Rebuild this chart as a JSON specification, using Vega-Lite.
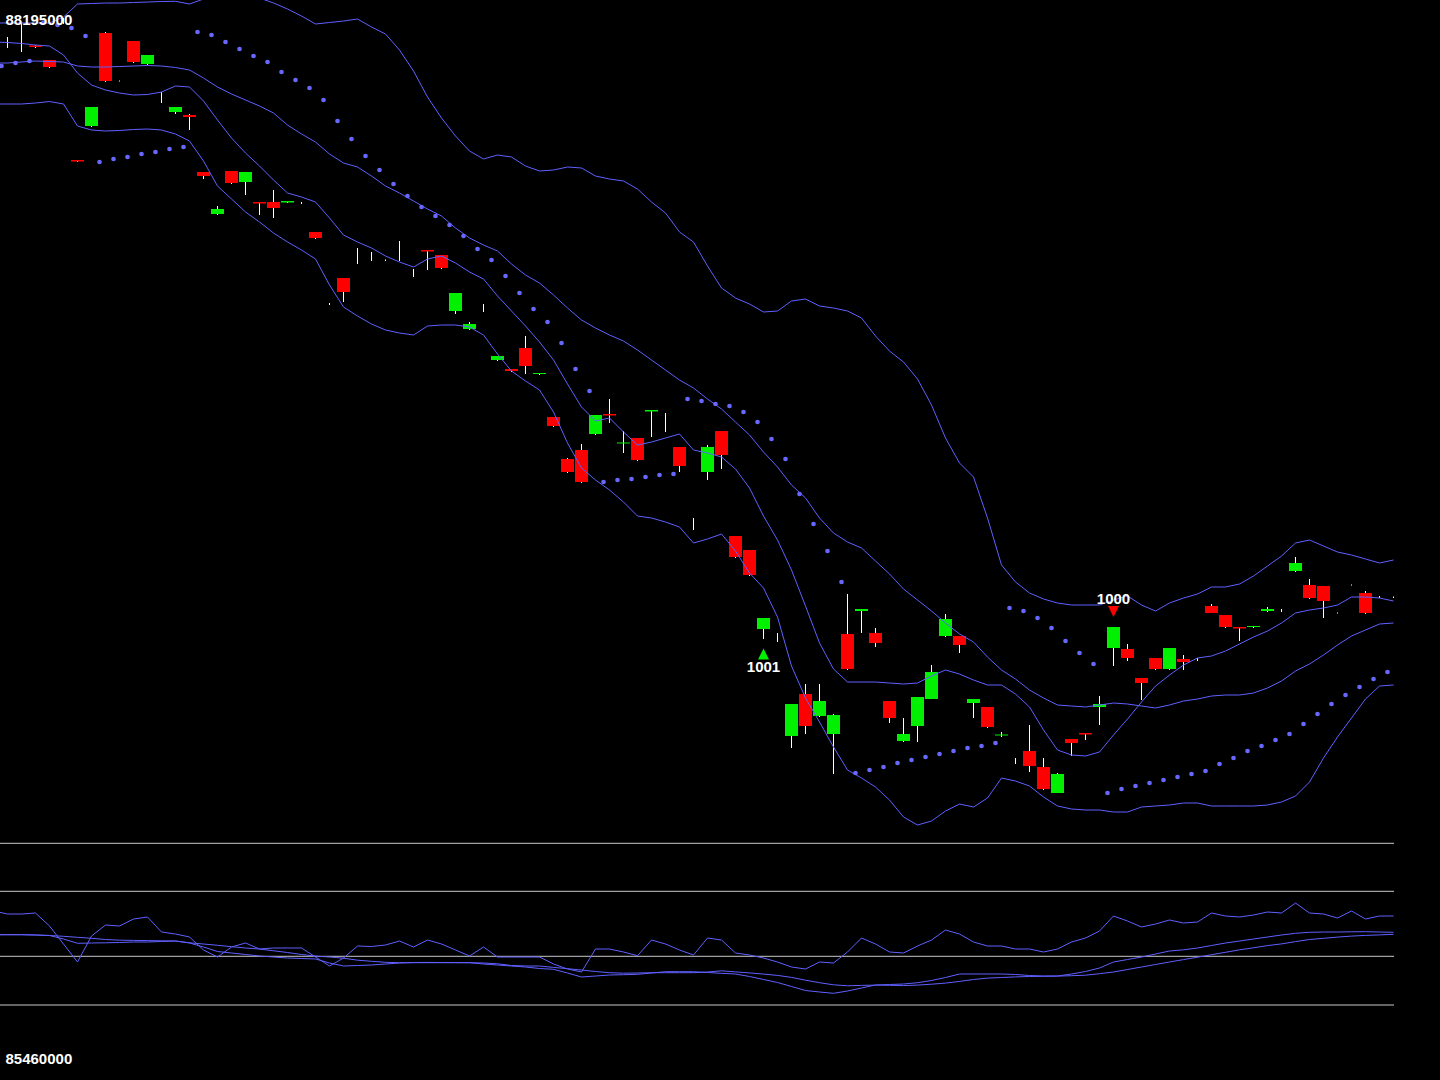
{
  "$schema": "https://vega.github.io/schema/vega-lite/v6.json",
  "width": 1440,
  "height": 1080,
  "padding": 0,
  "autosize": {"type": "none"},
  "background": "#000000",
  "config": {"view": {"stroke": null}},
  "datasets": {
    "candles": [
      {"i":0,"o":1038,"h":1043,"l":1032,"c":1038},
      {"i":1,"o":1042,"h":1057,"l":1028,"c":1042},
      {"i":2,"o":1034.5,"h":1035,"l":1032,"c":1033},
      {"i":3,"o":1020,"h":1020,"l":1012,"c":1013},
      {"i":4,"o":1060,"h":1062,"l":1056,"c":1060},
      {"i":5,"o":920,"h":920,"l":918,"c":918.5},
      {"i":6,"o":954,"h":973,"l":953,"c":973},
      {"i":7,"o":1047,"h":1048,"l":998,"c":999},
      {"i":8,"o":999,"h":999.5,"l":998.5,"c":999},
      {"i":9,"o":1039,"h":1039,"l":1017,"c":1018},
      {"i":10,"o":1016,"h":1025,"l":1015,"c":1025},
      {"i":11,"o":985,"h":988,"l":977,"c":985},
      {"i":12,"o":968,"h":973,"l":966,"c":973},
      {"i":13,"o":965,"h":966,"l":950,"c":963},
      {"i":14,"o":908,"h":908,"l":901,"c":904},
      {"i":15,"o":866,"h":874,"l":865,"c":871},
      {"i":16,"o":909,"h":909,"l":896,"c":897},
      {"i":17,"o":898,"h":908,"l":885,"c":908},
      {"i":18,"o":878,"h":878,"l":865,"c":876.5},
      {"i":19,"o":878,"h":890,"l":862,"c":872},
      {"i":20,"o":877.5,"h":879,"l":877,"c":879},
      {"i":21,"o":877,"h":878,"l":876,"c":877},
      {"i":22,"o":848,"h":848,"l":841,"c":842},
      {"i":23,"o":776,"h":777,"l":775,"c":776},
      {"i":24,"o":802,"h":802,"l":778,"c":788},
      {"i":25,"o":824,"h":832,"l":816,"c":824},
      {"i":26,"o":824,"h":828,"l":819,"c":824},
      {"i":27,"o":820,"h":820.5,"l":819,"c":820},
      {"i":28,"o":830,"h":839,"l":819,"c":830},
      {"i":29,"o":807,"h":811,"l":803,"c":807},
      {"i":30,"o":830,"h":830,"l":810,"c":828.5},
      {"i":31,"o":825,"h":825,"l":811,"c":812},
      {"i":32,"o":769,"h":787,"l":766,"c":787},
      {"i":33,"o":751,"h":758,"l":750,"c":756},
      {"i":34,"o":772,"h":776,"l":768,"c":772},
      {"i":35,"o":720,"h":724,"l":719,"c":724},
      {"i":36,"o":711,"h":711,"l":708,"c":709},
      {"i":37,"o":732,"h":744,"l":706,"c":714},
      {"i":38,"o":706,"h":707,"l":705,"c":707},
      {"i":39,"o":663,"h":663,"l":653,"c":654},
      {"i":40,"o":621,"h":622,"l":607,"c":608},
      {"i":41,"o":630,"h":636,"l":597,"c":598},
      {"i":42,"o":646,"h":665,"l":645,"c":665},
      {"i":43,"o":666,"h":681,"l":657,"c":664.5},
      {"i":44,"o":636.5,"h":649,"l":627,"c":637.5},
      {"i":45,"o":642,"h":642,"l":619,"c":620},
      {"i":46,"o":668.5,"h":670,"l":643,"c":670},
      {"i":47,"o":658,"h":667,"l":648,"c":658},
      {"i":48,"o":633,"h":633,"l":608,"c":614},
      {"i":49,"o":556,"h":562,"l":550,"c":556},
      {"i":50,"o":608,"h":635,"l":600,"c":633},
      {"i":51,"o":649,"h":649,"l":611,"c":625},
      {"i":52,"o":544,"h":544,"l":522,"c":523},
      {"i":53,"o":530,"h":530,"l":504,"c":505},
      {"i":54,"o":451,"h":462,"l":441,"c":462},
      {"i":55,"o":443,"h":447,"l":438,"c":443},
      {"i":56,"o":344,"h":376,"l":332,"c":376},
      {"i":57,"o":386,"h":396,"l":346,"c":354},
      {"i":58,"o":364,"h":396,"l":363,"c":379},
      {"i":59,"o":346,"h":366,"l":306,"c":365},
      {"i":60,"o":446,"h":486,"l":410,"c":411},
      {"i":61,"o":469,"h":471,"l":447,"c":471},
      {"i":62,"o":447,"h":452,"l":433,"c":437},
      {"i":63,"o":379,"h":379,"l":357,"c":362},
      {"i":64,"o":339,"h":362,"l":338,"c":346},
      {"i":65,"o":354,"h":383,"l":338,"c":383},
      {"i":66,"o":381,"h":415,"l":381,"c":408},
      {"i":67,"o":444,"h":466,"l":443,"c":461},
      {"i":68,"o":444,"h":444,"l":427,"c":435},
      {"i":69,"o":377,"h":381,"l":362,"c":381},
      {"i":70,"o":373,"h":373,"l":352,"c":353},
      {"i":71,"o":344.5,"h":348,"l":343,"c":345.5},
      {"i":72,"o":319,"h":322,"l":316,"c":319},
      {"i":73,"o":329,"h":355,"l":308,"c":314},
      {"i":74,"o":313,"h":322,"l":290,"c":291},
      {"i":75,"o":287,"h":307,"l":287,"c":306},
      {"i":76,"o":341,"h":341,"l":324,"c":337},
      {"i":77,"o":347,"h":347,"l":340,"c":345.5},
      {"i":78,"o":373,"h":384,"l":355,"c":376},
      {"i":79,"o":432,"h":453,"l":414,"c":453},
      {"i":80,"o":431,"h":436,"l":419,"c":422},
      {"i":81,"o":402,"h":402,"l":380,"c":397},
      {"i":82,"o":422,"h":422,"l":410,"c":411},
      {"i":83,"o":411,"h":432,"l":410,"c":432},
      {"i":84,"o":421,"h":425,"l":410,"c":418},
      {"i":85,"o":420.5,"h":422,"l":419,"c":420.5},
      {"i":86,"o":474,"h":476,"l":467,"c":467},
      {"i":87,"o":465,"h":465,"l":452,"c":453},
      {"i":88,"o":453,"h":453,"l":439,"c":451.5},
      {"i":89,"o":453,"h":454,"l":452,"c":454},
      {"i":90,"o":469,"h":473,"l":468,"c":471},
      {"i":91,"o":469.5,"h":471,"l":468,"c":469.5},
      {"i":92,"o":509,"h":523,"l":508,"c":517},
      {"i":93,"o":495,"h":501,"l":481,"c":482},
      {"i":94,"o":494,"h":494,"l":462,"c":479},
      {"i":95,"o":467,"h":467.5,"l":466.5,"c":467},
      {"i":96,"o":495,"h":495.5,"l":494.5,"c":495},
      {"i":97,"o":487,"h":489,"l":466,"c":467},
      {"i":98,"o":483,"h":484,"l":482,"c":483},
      {"i":99,"o":483,"h":483.5,"l":482,"c":483}
    ],
    "studies": [
      {"i":-1,"upper":1057,"fast":1038,"middle":1017,"lower":976,"sar":null,"osc":169,"signal":145.3,"slow":145.3},
      {"i":0,"upper":1057,"fast":1037.5,"middle":1017,"lower":976,"sar":1014,"osc":166,"signal":145.3,"slow":145.3},
      {"i":1,"upper":1057,"fast":1036.5,"middle":1018,"lower":976,"sar":1017,"osc":166,"signal":145.3,"slow":145.3},
      {"i":2,"upper":1057,"fast":1035,"middle":1019,"lower":977,"sar":1019,"osc":167,"signal":145,"slow":145},
      {"i":3,"upper":1057,"fast":1034,"middle":1018.5,"lower":978.5,"sar":1057.5,"osc":154,"signal":144.5,"slow":144.5},
      {"i":4,"upper":1063,"fast":1025,"middle":1018,"lower":976,"sar":1055,"osc":136,"signal":141,"slow":143.7},
      {"i":5,"upper":1076,"fast":1007,"middle":1014,"lower":954,"sar":1052,"osc":118,"signal":136.7,"slow":142.7},
      {"i":6,"upper":1076.5,"fast":995,"middle":1013,"lower":950,"sar":1044,"osc":144,"signal":137,"slow":141.7},
      {"i":7,"upper":1077,"fast":990,"middle":1013,"lower":949,"sar":918,"osc":155,"signal":137.2,"slow":140.5},
      {"i":8,"upper":1077,"fast":987,"middle":1013.5,"lower":949.5,"sar":921,"osc":154,"signal":137.5,"slow":139.8},
      {"i":9,"upper":1077.5,"fast":985,"middle":1014,"lower":950.5,"sar":923,"osc":161,"signal":138,"slow":139.6},
      {"i":10,"upper":1078,"fast":985.5,"middle":1014.5,"lower":951,"sar":926,"osc":163,"signal":138,"slow":139.4},
      {"i":11,"upper":1078.5,"fast":988,"middle":1014,"lower":950,"sar":928,"osc":148,"signal":138.5,"slow":139.2},
      {"i":12,"upper":1078.7,"fast":994,"middle":1012.5,"lower":946,"sar":931,"osc":146,"signal":139,"slow":139},
      {"i":13,"upper":1076,"fast":993,"middle":1010,"lower":939,"sar":933,"osc":143,"signal":137,"slow":137.2},
      {"i":14,"upper":1081,"fast":979,"middle":1002,"lower":919,"sar":1048,"osc":130,"signal":133,"slow":136},
      {"i":15,"upper":1084,"fast":960,"middle":993,"lower":894,"sar":1045,"osc":123,"signal":128.5,"slow":134.7},
      {"i":16,"upper":1086,"fast":942,"middle":986,"lower":881,"sar":1038,"osc":133,"signal":127,"slow":133.3},
      {"i":17,"upper":1085,"fast":927,"middle":980,"lower":868,"sar":1031,"osc":137,"signal":125.5,"slow":132},
      {"i":18,"upper":1082,"fast":914,"middle":974,"lower":858,"sar":1024,"osc":131,"signal":124,"slow":131},
      {"i":19,"upper":1077,"fast":900,"middle":967,"lower":847,"sar":1018,"osc":132,"signal":123,"slow":129.2},
      {"i":20,"upper":1071,"fast":887,"middle":955,"lower":838,"sar":1008,"osc":132,"signal":122,"slow":127.5},
      {"i":21,"upper":1064,"fast":883,"middle":946,"lower":830,"sar":1000,"osc":132,"signal":121.5,"slow":125.5},
      {"i":22,"upper":1056,"fast":878,"middle":938,"lower":821,"sar":992,"osc":123,"signal":121,"slow":123.9},
      {"i":23,"upper":1057.5,"fast":862,"middle":926,"lower":795,"sar":980,"osc":114,"signal":117,"slow":123},
      {"i":24,"upper":1059,"fast":845,"middle":917,"lower":773,"sar":959,"osc":122,"signal":114,"slow":121.8},
      {"i":25,"upper":1061,"fast":838,"middle":913,"lower":764,"sar":941,"osc":134,"signal":114.5,"slow":119.8},
      {"i":26,"upper":1053,"fast":832,"middle":904,"lower":756,"sar":924,"osc":133.5,"signal":115,"slow":118.7},
      {"i":27,"upper":1046,"fast":824,"middle":894,"lower":750,"sar":910,"osc":135,"signal":116,"slow":117.7},
      {"i":28,"upper":1030,"fast":818,"middle":887,"lower":747,"sar":896,"osc":139,"signal":117,"slow":117.3},
      {"i":29,"upper":1009,"fast":813,"middle":879,"lower":745,"sar":884,"osc":133,"signal":117.5,"slow":117.3},
      {"i":30,"upper":983,"fast":821,"middle":871,"lower":754,"sar":873,"osc":140,"signal":117.6,"slow":117.3},
      {"i":31,"upper":962,"fast":824,"middle":864,"lower":755,"sar":864,"osc":136,"signal":117.5,"slow":117.3},
      {"i":32,"upper":944,"fast":817,"middle":852,"lower":755,"sar":855,"osc":130,"signal":117.4,"slow":117.3},
      {"i":33,"upper":929,"fast":808,"middle":842,"lower":753,"sar":844,"osc":124,"signal":117.3,"slow":117.3},
      {"i":34,"upper":921,"fast":801,"middle":835,"lower":745,"sar":831,"osc":133,"signal":116,"slow":117},
      {"i":35,"upper":925,"fast":784,"middle":829,"lower":726,"sar":820,"osc":123,"signal":115,"slow":116.2},
      {"i":36,"upper":923,"fast":769,"middle":816,"lower":709,"sar":804,"osc":123,"signal":114,"slow":114.5},
      {"i":37,"upper":914,"fast":754,"middle":805,"lower":699,"sar":787,"osc":123,"signal":113,"slow":114},
      {"i":38,"upper":909,"fast":738,"middle":797,"lower":690,"sar":771,"osc":123,"signal":111.5,"slow":114},
      {"i":39,"upper":910,"fast":720,"middle":785,"lower":668,"sar":758,"osc":116,"signal":110.7,"slow":112.6},
      {"i":40,"upper":913,"fast":696,"middle":772,"lower":637,"sar":737,"osc":111,"signal":107,"slow":111.3},
      {"i":41,"upper":912,"fast":673,"middle":760,"lower":612,"sar":711,"osc":108,"signal":103,"slow":110},
      {"i":42,"upper":904,"fast":659,"middle":752,"lower":600,"sar":689,"osc":131,"signal":104,"slow":108.5},
      {"i":43,"upper":901,"fast":662,"middle":745,"lower":590,"sar":598,"osc":131,"signal":105,"slow":107.3},
      {"i":44,"upper":899,"fast":648,"middle":739,"lower":578,"sar":600,"osc":128,"signal":105.3,"slow":106.8},
      {"i":45,"upper":891,"fast":635,"middle":730,"lower":564,"sar":601,"osc":124.3,"signal":105.7,"slow":107},
      {"i":46,"upper":878,"fast":638,"middle":720,"lower":562,"sar":603,"osc":140,"signal":107,"slow":107.3},
      {"i":47,"upper":867,"fast":642,"middle":710,"lower":558,"sar":605,"osc":136,"signal":108.3,"slow":107.3},
      {"i":48,"upper":848,"fast":646,"middle":700,"lower":553,"sar":606,"osc":130,"signal":108.3,"slow":107.3},
      {"i":49,"upper":838,"fast":630,"middle":692,"lower":537,"sar":681,"osc":125,"signal":108.3,"slow":107.3},
      {"i":50,"upper":814,"fast":627,"middle":681,"lower":541,"sar":679,"osc":142,"signal":107.5,"slow":108},
      {"i":51,"upper":792,"fast":623,"middle":671,"lower":546,"sar":676,"osc":140,"signal":106.7,"slow":109.2},
      {"i":52,"upper":782,"fast":611,"middle":658,"lower":529,"sar":674,"osc":127,"signal":106,"slow":108.1},
      {"i":53,"upper":776,"fast":592,"middle":645,"lower":507,"sar":668,"osc":125,"signal":103.5,"slow":107.1},
      {"i":54,"upper":768,"fast":564,"middle":628,"lower":492,"sar":658,"osc":122,"signal":100.5,"slow":105.9},
      {"i":55,"upper":769,"fast":540,"middle":613,"lower":463,"sar":641,"osc":118,"signal":97.5,"slow":104.6},
      {"i":56,"upper":779,"fast":510,"middle":595,"lower":414,"sar":621,"osc":113,"signal":93.5,"slow":102.6},
      {"i":57,"upper":781,"fast":474,"middle":582,"lower":382,"sar":586,"osc":111,"signal":89.5,"slow":99.8},
      {"i":58,"upper":774,"fast":437,"middle":562,"lower":358,"sar":556,"osc":118,"signal":88,"slow":97.3},
      {"i":59,"upper":772,"fast":411,"middle":547,"lower":333,"sar":529,"osc":117,"signal":86.7,"slow":95.2},
      {"i":60,"upper":769,"fast":398,"middle":538,"lower":310,"sar":498,"osc":128,"signal":89,"slow":94.2},
      {"i":61,"upper":762,"fast":398,"middle":532,"lower":302,"sar":307,"osc":142,"signal":92,"slow":94.6},
      {"i":62,"upper":744,"fast":398,"middle":519,"lower":293,"sar":310,"osc":136,"signal":95,"slow":94.9},
      {"i":63,"upper":729,"fast":397,"middle":506,"lower":280,"sar":313,"osc":128,"signal":95.5,"slow":94.7},
      {"i":64,"upper":718,"fast":396,"middle":491,"lower":263,"sar":317,"osc":127,"signal":96,"slow":94.4},
      {"i":65,"upper":701,"fast":397,"middle":480,"lower":255,"sar":320,"osc":134,"signal":97.3,"slow":94.9},
      {"i":66,"upper":675,"fast":404,"middle":469,"lower":259,"sar":323,"osc":140,"signal":99.5,"slow":95.8},
      {"i":67,"upper":642,"fast":410,"middle":457,"lower":269,"sar":326,"osc":150,"signal":102.5,"slow":96.9},
      {"i":68,"upper":617,"fast":406,"middle":446,"lower":276,"sar":329,"osc":146,"signal":106,"slow":98.6},
      {"i":69,"upper":603,"fast":400,"middle":438,"lower":273,"sar":332,"osc":138,"signal":106,"slow":100.5},
      {"i":70,"upper":562,"fast":395,"middle":423,"lower":282,"sar":334,"osc":134,"signal":106,"slow":101.9},
      {"i":71,"upper":515,"fast":395,"middle":410,"lower":302,"sar":337,"osc":134,"signal":106,"slow":102.5},
      {"i":72,"upper":498,"fast":386,"middle":401,"lower":299,"sar":472,"osc":131,"signal":105.5,"slow":103.1},
      {"i":73,"upper":487,"fast":373,"middle":390,"lower":294,"sar":469,"osc":131,"signal":104.5,"slow":103.5},
      {"i":74,"upper":481,"fast":350,"middle":382,"lower":283,"sar":462,"osc":128,"signal":104,"slow":103.7},
      {"i":75,"upper":477,"fast":330,"middle":375,"lower":274,"sar":452,"osc":131,"signal":104,"slow":103.9},
      {"i":76,"upper":475,"fast":325,"middle":374,"lower":271,"sar":439,"osc":138,"signal":106,"slow":104.3},
      {"i":77,"upper":475,"fast":324,"middle":373,"lower":270,"sar":427,"osc":142,"signal":108.5,"slow":104.8},
      {"i":78,"upper":475,"fast":328,"middle":375,"lower":270,"sar":416,"osc":149,"signal":112,"slow":106.3},
      {"i":79,"upper":480,"fast":345,"middle":377,"lower":268,"sar":287,"osc":164,"signal":118,"slow":108},
      {"i":80,"upper":484,"fast":361,"middle":376,"lower":268,"sar":291,"osc":159,"signal":120.5,"slow":110.5},
      {"i":81,"upper":475,"fast":378,"middle":374,"lower":273,"sar":294,"osc":153,"signal":123,"slow":113},
      {"i":82,"upper":469,"fast":394,"middle":372,"lower":274,"sar":297,"osc":156,"signal":126,"slow":115.5},
      {"i":83,"upper":477,"fast":405,"middle":375,"lower":275,"sar":300,"osc":160,"signal":129,"slow":118},
      {"i":84,"upper":482,"fast":415,"middle":379,"lower":277,"sar":303,"osc":157,"signal":130.2,"slow":120.4},
      {"i":85,"upper":486,"fast":422,"middle":381,"lower":277,"sar":306,"osc":158,"signal":132,"slow":122.8},
      {"i":86,"upper":493,"fast":424,"middle":384,"lower":274,"sar":309,"osc":167,"signal":134.5,"slow":125.3},
      {"i":87,"upper":493,"fast":429,"middle":385,"lower":274,"sar":316,"osc":164,"signal":137,"slow":127.7},
      {"i":88,"upper":496,"fast":436,"middle":385,"lower":274,"sar":322,"osc":163,"signal":139,"slow":130.2},
      {"i":89,"upper":504,"fast":443,"middle":387,"lower":274,"sar":329,"osc":165,"signal":141,"slow":132.2},
      {"i":90,"upper":514,"fast":449,"middle":392,"lower":275,"sar":334,"osc":168,"signal":143,"slow":134.4},
      {"i":91,"upper":524,"fast":457,"middle":399,"lower":278,"sar":340,"osc":167,"signal":145,"slow":136.1},
      {"i":92,"upper":537,"fast":467,"middle":409,"lower":284,"sar":346,"osc":177,"signal":146.7,"slow":138.4},
      {"i":93,"upper":540,"fast":470,"middle":416,"lower":298,"sar":356,"osc":167,"signal":147.7,"slow":140.5},
      {"i":94,"upper":534,"fast":472,"middle":425,"lower":322,"sar":366,"osc":166,"signal":148,"slow":141.7},
      {"i":95,"upper":528,"fast":475,"middle":435,"lower":343,"sar":376,"osc":162,"signal":148,"slow":142.9},
      {"i":96,"upper":525,"fast":483,"middle":444,"lower":362,"sar":385,"osc":169,"signal":148.2,"slow":143.9},
      {"i":97,"upper":521,"fast":483,"middle":450,"lower":381,"sar":393,"osc":161,"signal":148.3,"slow":144.6},
      {"i":98,"upper":517,"fast":482,"middle":456,"lower":394,"sar":401,"osc":164,"signal":148,"slow":145.1},
      {"i":99,"upper":520,"fast":479,"middle":457,"lower":395,"sar":408,"osc":164,"signal":147.7,"slow":145.7}
    ],
    "guides": [
      {"level":236.7,"from":-1,"to":99.04},
      {"level":188.7,"from":-1,"to":99.04},
      {"level":123.7,"from":-1,"to":99.04},
      {"level":75,"from":-1,"to":99.04}
    ],
    "signals": [
      {"i":54,"kind":"buy","label":"1001","price":441},
      {"i":79,"kind":"sell","label":"1000","price":453}
    ],
    "priceLabels": [
      {"label":"88195000","i":-0.143,"level":1055},
      {"label":"85460000","i":-0.143,"level":15.7}
    ]
  },
  "encoding": {
    "x": {"field": "i", "type": "quantitative", "scale": {"domain": [-0.535714, 102.321429], "nice": false, "zero": false, "padding": 0}, "axis": null}
  },
  "layer": [
    {
      "data": {"name": "candles"},
      "mark": {"type": "rule", "color": "#ffffff", "strokeWidth": 1},
      "encoding": {
        "y": {"field": "l", "type": "quantitative", "scale": {"domain": [0, 1080], "nice": false, "zero": false}, "axis": null},
        "y2": {"field": "h"}
      }
    },
    {
      "data": {"name": "candles"},
      "mark": {"type": "bar", "size": 13, "orient": "vertical"},
      "encoding": {
        "y": {"field": "o", "type": "quantitative", "scale": {"domain": [0, 1080], "nice": false, "zero": false}, "axis": null},
        "y2": {"field": "c"},
        "color": {"condition": {"test": "datum.c > datum.o", "value": "#00f000"}, "value": "#ff0000"}
      }
    },
    {
      "data": {"name": "guides"},
      "mark": {"type": "rule", "color": "#c8c8c8", "strokeWidth": 1, "clip": true},
      "encoding": {
        "x": {"field": "from", "type": "quantitative", "scale": {"domain": [-0.535714, 102.321429], "nice": false, "zero": false, "padding": 0}, "axis": null},
        "x2": {"field": "to"},
        "y": {"field": "level", "type": "quantitative", "scale": {"domain": [0, 1080], "nice": false, "zero": false}, "axis": null}
      }
    },
    {
      "data": {"name": "studies"},
      "mark": {"type": "line", "color": "#6060ff", "strokeWidth": 1, "clip": true},
      "encoding": {"y": {"field": "upper", "type": "quantitative", "scale": {"domain": [0, 1080], "nice": false, "zero": false}, "axis": null}}
    },
    {
      "data": {"name": "studies"},
      "mark": {"type": "line", "color": "#6060ff", "strokeWidth": 1, "clip": true},
      "encoding": {"y": {"field": "fast", "type": "quantitative", "scale": {"domain": [0, 1080], "nice": false, "zero": false}, "axis": null}}
    },
    {
      "data": {"name": "studies"},
      "mark": {"type": "line", "color": "#6060ff", "strokeWidth": 1, "clip": true},
      "encoding": {"y": {"field": "middle", "type": "quantitative", "scale": {"domain": [0, 1080], "nice": false, "zero": false}, "axis": null}}
    },
    {
      "data": {"name": "studies"},
      "mark": {"type": "line", "color": "#6060ff", "strokeWidth": 1, "clip": true},
      "encoding": {"y": {"field": "lower", "type": "quantitative", "scale": {"domain": [0, 1080], "nice": false, "zero": false}, "axis": null}}
    },
    {
      "data": {"name": "studies"},
      "mark": {"type": "point", "shape": "circle", "filled": true, "size": 22, "opacity": 1, "color": "#6868ff", "xOffset": -6, "clip": true},
      "encoding": {"y": {"field": "sar", "type": "quantitative", "scale": {"domain": [0, 1080], "nice": false, "zero": false}, "axis": null}}
    },
    {
      "data": {"name": "studies"},
      "mark": {"type": "line", "color": "#6060ff", "strokeWidth": 1, "clip": true},
      "encoding": {"y": {"field": "osc", "type": "quantitative", "scale": {"domain": [0, 1080], "nice": false, "zero": false}, "axis": null}}
    },
    {
      "data": {"name": "studies"},
      "mark": {"type": "line", "color": "#6060ff", "strokeWidth": 1, "clip": true},
      "encoding": {"y": {"field": "signal", "type": "quantitative", "scale": {"domain": [0, 1080], "nice": false, "zero": false}, "axis": null}}
    },
    {
      "data": {"name": "studies"},
      "mark": {"type": "line", "color": "#6060ff", "strokeWidth": 1, "clip": true},
      "encoding": {"y": {"field": "slow", "type": "quantitative", "scale": {"domain": [0, 1080], "nice": false, "zero": false}, "axis": null}}
    },
    {
      "data": {"name": "signals"},
      "transform": [{"filter": "datum.kind === 'buy'"}],
      "mark": {"type": "point", "shape": "M0,-1L1,1L-1,1Z", "filled": true, "size": 121, "opacity": 1, "color": "#00f000", "yOffset": 15},
      "encoding": {"y": {"field": "price", "type": "quantitative", "scale": {"domain": [0, 1080], "nice": false, "zero": false}, "axis": null}}
    },
    {
      "data": {"name": "signals"},
      "transform": [{"filter": "datum.kind === 'sell'"}],
      "mark": {"type": "point", "shape": "M-1,-1L1,-1L0,1Z", "filled": true, "size": 121, "opacity": 1, "color": "#ff0000", "yOffset": -15.5},
      "encoding": {"y": {"field": "price", "type": "quantitative", "scale": {"domain": [0, 1080], "nice": false, "zero": false}, "axis": null}}
    },
    {
      "data": {"name": "signals"},
      "transform": [{"filter": "datum.kind === 'buy'"}],
      "mark": {"type": "text", "font": "Liberation Sans", "fontSize": 15, "fontWeight": "bold", "color": "#ffffff", "align": "center", "baseline": "alphabetic", "yOffset": 33},
      "encoding": {
        "y": {"field": "price", "type": "quantitative", "scale": {"domain": [0, 1080], "nice": false, "zero": false}, "axis": null},
        "text": {"field": "label"}
      }
    },
    {
      "data": {"name": "signals"},
      "transform": [{"filter": "datum.kind === 'sell'"}],
      "mark": {"type": "text", "font": "Liberation Sans", "fontSize": 15, "fontWeight": "bold", "color": "#ffffff", "align": "center", "baseline": "alphabetic", "yOffset": -23},
      "encoding": {
        "y": {"field": "price", "type": "quantitative", "scale": {"domain": [0, 1080], "nice": false, "zero": false}, "axis": null},
        "text": {"field": "label"}
      }
    },
    {
      "data": {"name": "priceLabels"},
      "mark": {"type": "text", "font": "Liberation Sans", "fontSize": 15, "fontWeight": "bold", "color": "#ffffff", "align": "left", "baseline": "alphabetic"},
      "encoding": {
        "y": {"field": "level", "type": "quantitative", "scale": {"domain": [0, 1080], "nice": false, "zero": false}, "axis": null},
        "text": {"field": "label"}
      }
    }
  ]
}
